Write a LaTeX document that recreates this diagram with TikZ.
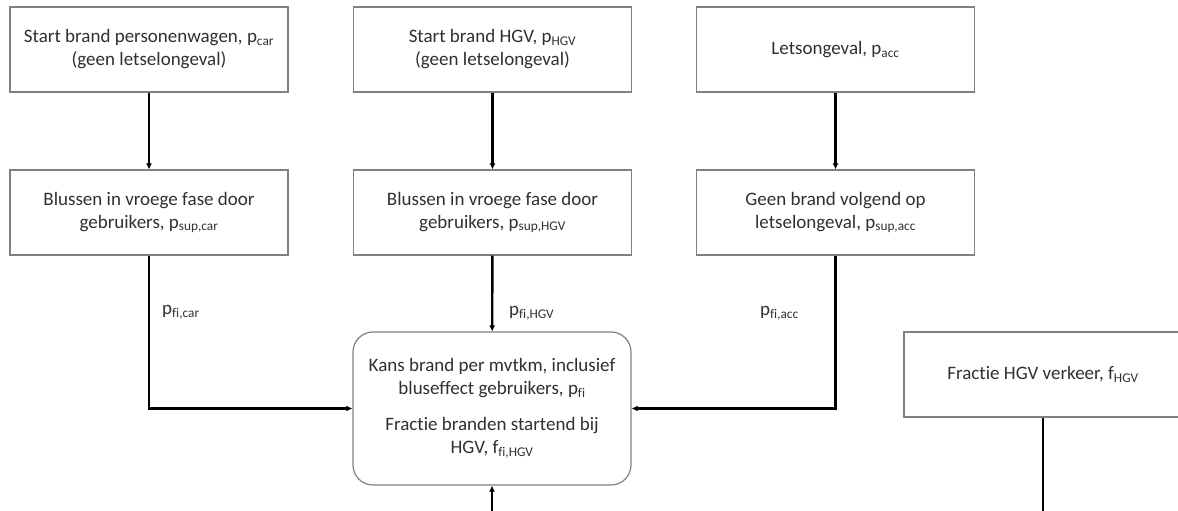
\documentclass[tikz,border=0pt]{standalone}
\usepackage{fontspec}
\setmainfont{Carlito}[Ligatures=NoCommon]
\usetikzlibrary{arrows.meta}
\definecolor{boxline}{HTML}{808080}
\definecolor{txt}{HTML}{303030}
\newcommand{\sbs}[1]{\textsubscript{#1}}
\tikzset{
  every node/.style={font=\fontsize{19}{23}\selectfont, text=txt},
  stepbox/.style={draw=boxline, line width=1.2pt, fill=white, minimum width=278pt,
    minimum height=85pt, align=center, inner sep=2pt},
  roundbox/.style={stepbox, rounded corners=20pt, minimum height=153pt},
  flow/.style={draw=black, line width=2.4pt, -{Latex[length=6pt,width=6pt]}},
  plain/.style={draw=black, line width=2.4pt},
  lbl/.style={anchor=west, inner sep=0pt}
}
\begin{document}
\begin{tikzpicture}[x=1pt,y=-1pt]
\useasboundingbox (0,0) rectangle (1178,511);
\clip (0,0) rectangle (1178,511);
\fill[white] (0,0) rectangle (1178,511);

% top row: initiating events
\node[stepbox] (car) at (149,49.5) {Start brand personenwagen, p\sbs{car}\\(geen letselongeval)};
\node[stepbox] (hgv) at (492.5,49.5) {Start brand HGV, p\sbs{HGV}\\(geen letselongeval)};
\node[stepbox] (acc) at (835.5,49.5) {Letsongeval, p\sbs{acc}};

% second row: suppression
\node[stepbox] (supcar) at (149,212.5) {Blussen in vroege fase door\\gebruikers, p\sbs{sup,car}};
\node[stepbox] (suphgv) at (492.5,212.5) {Blussen in vroege fase door\\gebruikers, p\sbs{sup,HGV}};
\node[stepbox] (supacc) at (835.5,212.5) {Geen brand volgend op\\letselongeval, p\sbs{sup,acc}};

% combined fire probability
\node[roundbox] (fi) at (492,408.5) {Kans brand per mvtkm, inclusief\\bluseffect gebruikers, p\sbs{fi}\\[13pt]Fractie branden startend bij\\HGV, f\sbs{fi,HGV}};

% traffic fraction
\node[stepbox] (fhgv) at (1043,374.5) {Fractie HGV verkeer, f\sbs{HGV}};

\coordinate (inlow) at (492,511);
\coordinate (outlow) at (1043,511);

% connectors
\draw[flow] (car) -- (supcar);
\draw[flow] (hgv) -- (suphgv);
\draw[flow] (acc) -- (supacc);
\draw[flow] (supcar.south) |- (fi.west);
\draw[flow] (suphgv) -- (fi);
\draw[flow] (supacc.south) |- (fi.east);
\draw[flow] (inlow) -- (fi.south);
\draw[plain] (fhgv.south) -- (outlow);

% branch labels
\node[lbl] (lcar) at (162,312) {p\sbs{fi,car}};
\node[lbl] (lhgv) at (509,313) {p\sbs{fi,HGV}};
\node[lbl] (lacc) at (760,313) {p\sbs{fi,acc}};
\end{tikzpicture}
\end{document}
